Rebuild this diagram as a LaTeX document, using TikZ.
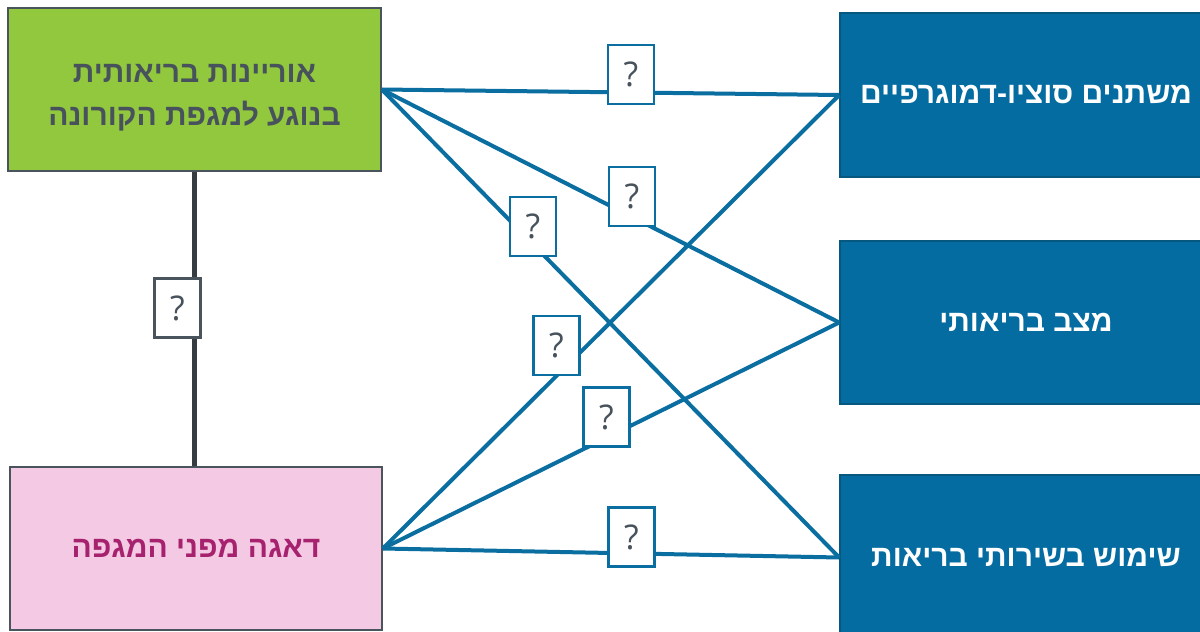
\documentclass[tikz,border=0pt]{standalone}
\usepackage{fontspec}
\setmainfont{Liberation Sans}
\newfontfamily\hebfont[Script=Hebrew]{Liberation Sans}
\newfontfamily\qfont{Open Sans}
\TeXXeTstate=1
\definecolor{gfill}{HTML}{92C83E}
\definecolor{pfill}{HTML}{F4C9E3}
\definecolor{bfill}{HTML}{046CA1}
\definecolor{bdraw}{HTML}{06587F}
\definecolor{gborder}{HTML}{4A545C}
\definecolor{gtext}{HTML}{47525C}
\definecolor{mtext}{HTML}{A7226E}
\definecolor{lblue}{HTML}{0A6EA0}
\definecolor{ldark}{HTML}{353D42}
\tikzset{
  mainbox/.style={rectangle, inner sep=0pt, line width=1.6pt, font=\hebfont\bfseries\fontsize{30}{43}\selectfont, align=center},
  greenbox/.style={mainbox, fill=gfill, draw=gborder, text=gtext},
  pinkbox/.style={mainbox, fill=pfill, draw=gborder, text=mtext},
  bluebox/.style={mainbox, fill=bfill, draw=bdraw, text=white},
  qbox/.style={rectangle, fill=white, draw=lblue, line width=2.6pt, minimum width=46pt, minimum height=59pt, inner sep=0pt, font=\qfont\fontsize{34}{38}\selectfont, text=gtext},
  qgray/.style={qbox, draw=gborder},
  link/.style={draw=lblue, line width=4pt},
  vlink/.style={draw=ldark, line width=4.2pt}
}
\begin{document}
\begin{tikzpicture}[x=1pt,y=-1pt]
\useasboundingbox (0,0) rectangle (1200,632);
\clip (0,0) rectangle (1200,632);
\fill[white] (0,0) rectangle (1200,632);
% main boxes
\node[greenbox, minimum width=373pt, minimum height=163pt] (g) at (194.5,89.5) {\rule{0pt}{34pt}\beginR אוריינות בריאותית\endR\\\beginR בנוגע למגפת הקורונה\endR};
\node[pinkbox, minimum width=372pt, minimum height=163pt] (p) at (196,548.5) {\beginR דאגה מפני המגפה\endR};
\node[bluebox, minimum width=372pt, minimum height=164pt] (b1) at (1026,95) {\beginR משתנים סוציו-דמוגרפיים\endR};
\node[bluebox, minimum width=372pt, minimum height=163pt] (b2) at (1026,322.5) {\beginR מצב בריאותי\endR};
\node[bluebox, minimum width=372pt, minimum height=165pt] (b3) at (1026,557.5) {\beginR שימוש בשירותי בריאות\endR};
% connectors
\draw[link] (g.east) -- (b1.west);
\draw[link] (g.east) -- (b2.west);
\draw[link] (g.east) -- (b3.west);
\draw[link] (p.east) -- (b1.west);
\draw[link] (p.east) -- (b2.west);
\draw[link] (p.east) -- (b3.west);
\draw[vlink] (g.south) -- (g.south |- p.north);
% question boxes
\node[qbox] (q1) at (631,74.5) {?};
\node[qbox] (q2) at (632,196.5) {?};
\node[qbox] (q3) at (533,226.5) {?};
\node[qbox] (q4) at (556.5,345.5) {?};
\node[qbox] (q5) at (606.5,417) {?};
\node[qbox] (q6) at (631.5,537) {?};
\node[qgray] (q7) at (177.5,308) {?};
\end{tikzpicture}
\end{document}
